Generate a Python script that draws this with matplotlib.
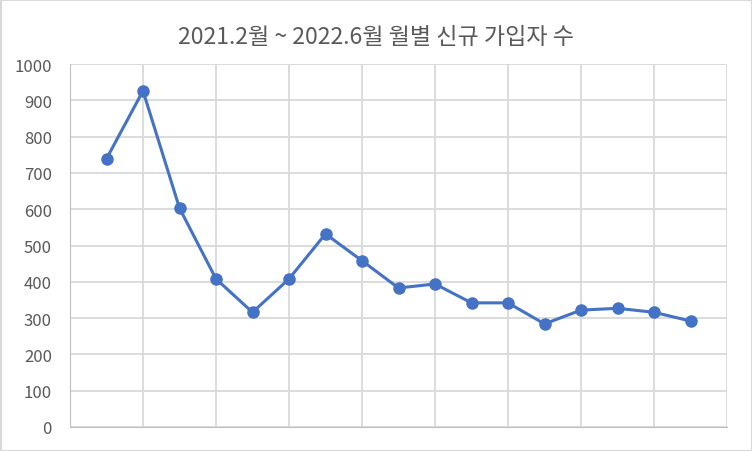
import numpy as np
import matplotlib.pyplot as plt
from matplotlib.patches import Rectangle

plt.rcParams['font.family'] = ['Noto Sans CJK KR', 'DejaVu Sans']

months = ['2021.2', '2021.3', '2021.4', '2021.5', '2021.6', '2021.7', '2021.8',
          '2021.9', '2021.10', '2021.11', '2021.12', '2022.1', '2022.2',
          '2022.3', '2022.4', '2022.5', '2022.6']
new_users = [739, 926, 603, 408, 316, 408, 532, 458, 383, 394, 342, 342,
             284, 322, 327, 316, 292]

title = "2021.2월 ~ 2022.6월 월별 신규 가입자 수"

grid_c = '#D9D9D9'
text_c = '#595959'
line_c = '#4472C4'

fig = plt.figure(figsize=(7.52, 4.52), dpi=100)
ax = fig.add_axes([70/752, 1 - 428/452, 657/752, 363/452])

x = np.arange(1, len(months) + 1)
ax.plot(x, new_users, color=line_c, lw=2.2, marker='o', ms=8, zorder=3)

ax.set_xlim(0, len(months) + 1)
ax.set_ylim(0, 1000)
ax.set_yticks(np.arange(0, 1001, 100))
ax.set_xticks(np.arange(0, len(months) + 2, 2))
ax.set_xticklabels([])
ax.grid(True, color=grid_c, lw=1.3)
ax.set_axisbelow(True)
for s in ax.spines.values():
    s.set_visible(False)
ax.spines['left'].set_visible(True)
ax.spines['left'].set_color('#BFBFBF')
ax.spines['bottom'].set_visible(True)
ax.spines['bottom'].set_color('#BFBFBF')
ax.tick_params(length=0, labelsize=12, labelcolor=text_c, pad=13)

fig.text(0.5, 1 - 38/452, title, ha='center', va='center',
         fontsize=16.6, color=text_c)

fig.patches.append(Rectangle((0.5/752, 0.5/452), 1 - 1/752, 1 - 1/452,
                             transform=fig.transFigure, fill=False,
                             ec=grid_c, lw=1.5))

fig.savefig('out.png', dpi=100)
